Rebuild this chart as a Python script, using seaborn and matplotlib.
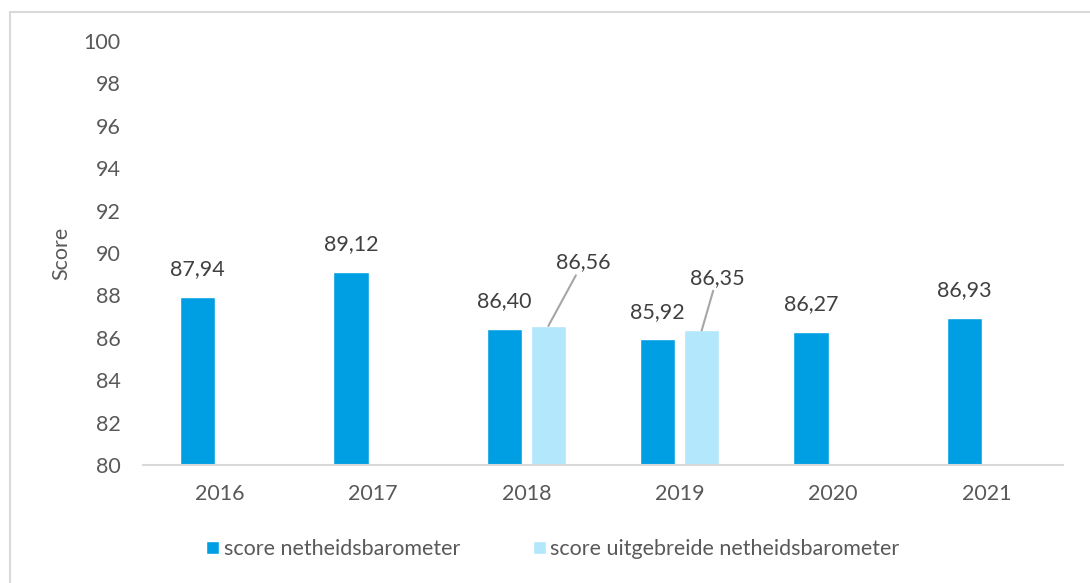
import numpy as np
import pandas as pd
import matplotlib
matplotlib.use("Agg")
import matplotlib.pyplot as plt
from matplotlib.patches import Rectangle
import seaborn as sns

# data
years = ["2016", "2017", "2018", "2019", "2020", "2021"]
score_basis = [87.94, 89.12, 86.40, 85.92, 86.27, 86.93]
score_uitgebreid = [np.nan, np.nan, 86.56, 86.35, np.nan, np.nan]
series_names = ["score netheidsbarometer", "score uitgebreide netheidsbarometer"]
y_ticks = list(range(80, 101, 2))

df = pd.DataFrame({
    "jaar": years * 2,
    "score": score_basis + score_uitgebreid,
    "reeks": [series_names[0]] * len(years) + [series_names[1]] * len(years),
})

sns.set_theme(style="white")
plt.rcParams["font.family"] = ["Lato", "DejaVu Sans"]

text_col = "#595959"
label_col = "#404040"
palette = {series_names[0]: "#009FE3", series_names[1]: "#B3E7FB"}
fs = 15.5

fig = plt.figure(figsize=(10.9, 5.83), dpi=100)
ax = fig.add_axes([143 / 1090, 1 - 465 / 583, (1063 - 143) / 1090, (465 - 41) / 583])

sns.barplot(
    data=df, x="jaar", y="score", hue="reeks", hue_order=series_names,
    palette=palette, width=0.575, gap=0.2, errorbar=None, saturation=1, ax=ax,
)

ax.set_ylim(80, 100)
ax.set_yticks(y_ticks)
ax.set_xlabel("")
ax.set_ylabel("Score", fontsize=fs, color=text_col, labelpad=9)
ax.tick_params(axis="both", length=0, labelsize=fs, labelcolor=text_col)
ax.tick_params(axis="y", pad=16)
ax.tick_params(axis="x", pad=14)
for side in ["top", "right", "left"]:
    ax.spines[side].set_visible(False)
ax.spines["bottom"].set_color("#D9D9D9")
ax.spines["bottom"].set_linewidth(1.5)

# value labels
leader = {2: (25, 46), 3: (11, 38)}  # hue 1 labels with leader lines, offsets in points
for hi, cont in enumerate(ax.containers):
    for bar in cont:
        h = bar.get_height()
        if np.isnan(h) or h == 0:
            continue
        x = bar.get_x() + bar.get_width() / 2
        idx = int(round(x))
        txt = f"{h:.2f}".replace(".", ",")
        if hi == 1 and idx in leader:
            dx, dy = leader[idx]
            ax.annotate(txt, (x, h), xytext=(dx, dy), textcoords="offset points",
                        ha="center", va="center", fontsize=fs, color=label_col,
                        arrowprops=dict(arrowstyle="-", color="#A6A6A6", lw=1.5,
                                        shrinkA=0, shrinkB=0))
        else:
            ax.annotate(txt, (x, h), xytext=(0, 20), textcoords="offset points",
                        ha="center", va="center", fontsize=fs, color=label_col)

leg = ax.legend(loc="center", bbox_to_anchor=(553 / 1090, 1 - 549 / 583),
                bbox_transform=fig.transFigure, ncol=2, frameon=False,
                fontsize=fs, handlelength=0.6, handleheight=0.6,
                handletextpad=0.2, columnspacing=3.4)
for t in leg.get_texts():
    t.set_color(text_col)

# chart border
fig.patches.append(Rectangle((10 / 1090, -0.1), 1.2, 1.1 - 12 / 583,
                             transform=fig.transFigure, fill=False,
                             edgecolor="#D9D9D9", lw=1.5, zorder=0))

fig.savefig("out.png", dpi=100)
